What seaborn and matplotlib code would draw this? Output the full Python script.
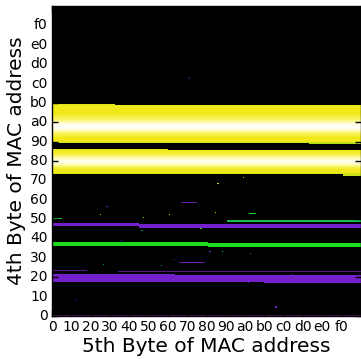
import numpy as np
import matplotlib
matplotlib.use("Agg")
import matplotlib.pyplot as plt
import seaborn as sns
from matplotlib.colors import LinearSegmentedColormap

# tick labels (hex values of the bytes)
tick_labels = ["0", "10", "20", "30", "40", "50", "60", "70",
               "80", "90", "a0", "b0", "c0", "d0", "e0", "f0"]

# bands: (row_lo, row_hi, col_lo, col_hi, value)
purple_bands = [
    (0, 0, 0, 255, 0.15),
    (37, 37, 0, 28, 0.2),
    (36, 36, 55, 255, 0.2),
    (31, 34, 0, 101, 0.3),
    (30, 33, 102, 255, 0.3),
    (28, 30, 0, 175, 0.3),
    (27, 29, 176, 255, 0.3),
    (74, 76, 0, 71, 0.3),
    (73, 75, 72, 255, 0.3),
    (93, 93, 107, 119, 0.24),
    (44, 44, 105, 126, 0.27),
]
green_bands = [
    (58, 60, 0, 128, 0.55),
    (57, 59, 129, 255, 0.55),
    (78, 78, 145, 255, 0.52),
    (80, 80, 1, 7, 0.52),
    (84, 84, 163, 168, 0.55),
]

# yellow bands: (row_lo, row_hi, col_lo, col_hi), with an intensity profile by row
upper_yellow = [(143, 174, 0, 51), (143, 173, 52, 212), (142, 173, 213, 255)]
upper_first_row = 142
upper_profile = [0.66, 0.68, 0.72, 0.72, 0.72, 0.72, 0.74, 0.77, 0.80, 0.84,
                 0.88, 0.92, 0.96, 0.99, 1.00, 0.99, 0.96, 0.92, 0.88, 0.85,
                 0.82, 0.79, 0.77, 0.75, 0.74, 0.72, 0.72, 0.72, 0.72, 0.72,
                 0.72, 0.72, 0.70]
lower_yellow = [(117, 137, 0, 95), (117, 136, 96, 240), (116, 136, 241, 255)]
lower_first_row = 116
lower_profile = [0.68, 0.70, 0.72, 0.72, 0.73, 0.75, 0.78, 0.82, 0.87, 0.92,
                 0.96, 0.99, 0.98, 0.95, 0.90, 0.86, 0.82, 0.78, 0.76, 0.74,
                 0.72, 0.70]

# scattered single cells: (row, col, value)
dots = [(114, 158, 0.62), (109, 137, 0.68), (90, 45, 0.3), (83, 40, 0.62),
        (81, 75, 0.64), (83, 97, 0.66), (85, 135, 0.66), (70, 74, 0.47),
        (72, 123, 0.55), (62, 57, 0.4), (53, 130, 0.3), (53, 131, 0.3),
        (53, 141, 0.52), (51, 164, 0.47), (46, 101, 0.3), (42, 42, 0.47),
        (41, 90, 0.47), (34, 198, 0.4), (27, 162, 0.4), (13, 20, 0.4),
        (7, 185, 0.3), (196, 113, 0.1)]

grid = np.zeros((256, 256))
for r0, r1, c0, c1, v in purple_bands + green_bands:
    grid[r0:r1 + 1, c0:c1 + 1] = v
for bands, first, prof in [(upper_yellow, upper_first_row, upper_profile),
                           (lower_yellow, lower_first_row, lower_profile)]:
    for r0, r1, c0, c1 in bands:
        for r in range(r0, r1 + 1):
            grid[r, c0:c1 + 1] = prof[r - first]
for r, c, v in dots:
    grid[r, c] = v

cmap = LinearSegmentedColormap.from_list("mac", [
    (0.0, (0, 0, 0)),
    (0.15, (0.30, 0.06, 0.42)),
    (0.3, (0.46, 0.13, 0.80)),
    (0.4, (0.15, 0.15, 0.85)),
    (0.47, (0.0, 0.55, 0.55)),
    (0.55, (0.12, 0.86, 0.12)),
    (0.64, (0.6, 0.85, 0.1)),
    (0.72, (0.94, 0.91, 0.1)),
    (0.85, (0.99, 0.97, 0.5)),
    (1.0, (1, 1, 1)),
])

fig = plt.figure(figsize=(3.61, 3.59), dpi=100)
ax = fig.add_axes([52 / 361, 43 / 359, 309 / 361, 310 / 359])
sns.heatmap(grid, ax=ax, cmap=cmap, vmin=0, vmax=1, cbar=False)
ax.invert_yaxis()

ticks = np.arange(0, 256, 16)
ax.set_xticks(ticks)
ax.set_xticklabels(tick_labels, rotation=0, fontsize=10)
ax.set_yticks(ticks)
ax.set_yticklabels(tick_labels, rotation=0, fontsize=10)
ax.tick_params(direction="in", length=4, width=1, color="k",
               top=True, right=True, pad=3)
for s in ax.spines.values():
    s.set_visible(True)
    s.set_color("k")
    s.set_linewidth(1)

ax.set_xlabel("5th Byte of MAC address", fontsize=14.5, labelpad=2)
ax.set_ylabel("4th Byte of MAC address", fontsize=14.5, labelpad=3)

fig.savefig("out.png", dpi=100)
